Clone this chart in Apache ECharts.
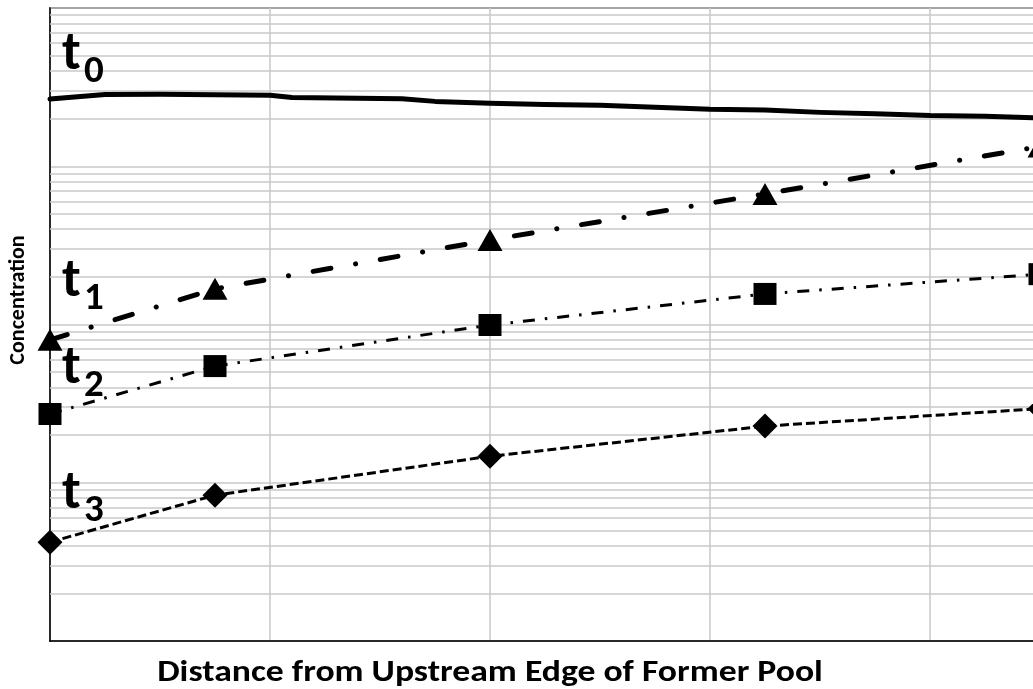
<!DOCTYPE html>
<html>
<head>
<meta charset="utf-8">
<script src="https://cdn.jsdelivr.net/npm/echarts@6/dist/echarts.min.js"></script>
<style>
  html, body { margin: 0; padding: 0; background: #fff; }
  #chart { width: 1033px; height: 689px; }
</style>
</head>
<body>
<div id="chart"></div>
<script>
const FONT = "Carlito, Lato, 'Open Sans', sans-serif";

// Sampling stations along the reach (distance units)
const stationX = [0, 0.75, 2, 3.25, 4.5];
const t1Values = [80, 168, 342, 669, 1334];
const t2Values = [27.2, 54.6, 99.3, 156, 208];
const t3Values = [4.21, 8.35, 14.7, 22.8, 29.4];

// Initial profile, sampled more densely
const t0X = [0, 0.25, 0.5, 1.0, 1.1, 1.6, 1.75, 2.0, 2.25, 2.5, 2.75, 3.0, 3.25, 3.5, 3.75, 4.0, 4.25, 4.5, 4.75];
const t0Values = [2660, 2840, 2850, 2810, 2720, 2670, 2570, 2500, 2460, 2430, 2360, 2290, 2270, 2190, 2150, 2090, 2070, 2020, 1990];

// Log gridline layout
const decades = [1, 10, 100, 1000];
const minorSteps = [2, 3, 4, 5, 6, 7, 8, 9];

// Curve labels: text, subscript, left x, baseline y
const curveLabels = [
  { t: 't', sub: '0', x: 62, base: 73 },
  { t: 't', sub: '1', x: 62, base: 300 },
  { t: 't', sub: '2', x: 62, base: 387 },
  { t: 't', sub: '3', x: 62, base: 512 }
];

const GRID_COLOR = '#c8c8c8';

const pairs = (xs, ys) => xs.map((x, i) => [x, ys[i]]);

const minorLines = [];
decades.forEach(d => minorSteps.forEach(s => minorLines.push({ yAxis: d * s })));

const T_SIZE = 54, SUB_SIZE = 39;
const labelGraphics = [];
curveLabels.forEach(l => {
  labelGraphics.push({
    type: 'text', x: l.x, y: l.base - 0.33 * T_SIZE, z: 100,
    style: { text: l.t, font: `bold ${T_SIZE}px ${FONT}`, fill: '#000', verticalAlign: 'middle', align: 'left' }
  });
  labelGraphics.push({
    type: 'text', x: l.x + 22, y: l.base + 12 - 0.33 * SUB_SIZE, z: 100,
    style: { text: l.sub, font: `bold ${SUB_SIZE}px ${FONT}`, fill: '#000', verticalAlign: 'middle', align: 'left' }
  });
});

const chart = echarts.init(document.getElementById('chart'), null, { renderer: 'canvas' });

chart.setOption({
  animation: false,
  backgroundColor: '#fff',
  grid: {
    left: 50, top: 8, bottom: 48, right: -117,
    outerBoundsMode: 'none',
    show: true, borderColor: '#000', borderWidth: 1.5, backgroundColor: 'transparent'
  },
  xAxis: {
    type: 'value', min: 0, max: 5, interval: 1,
    axisLine: { show: true, onZero: false, lineStyle: { color: '#000', width: 1.5 } },
    axisTick: { show: false },
    axisLabel: { show: false },
    splitLine: { show: true, lineStyle: { color: GRID_COLOR, width: 1.5 } }
  },
  yAxis: {
    type: 'log', logBase: 10, min: 1, max: 10000,
    axisLine: { show: true, lineStyle: { color: '#000', width: 1.5 } },
    axisTick: { show: false },
    axisLabel: { show: false },
    splitLine: { show: true, lineStyle: { color: GRID_COLOR, width: 1.5 } }
  },
  graphic: [
    {
      type: 'text', x: 18, y: 300, rotation: Math.PI / 2, z: 100,
      style: { text: 'Concentration', font: `bold 22px ${FONT}`, fill: '#000', align: 'center', verticalAlign: 'middle' }
    },
    {
      type: 'text', x: 490, y: 673, scaleX: 1.15, z: 100,
      style: { text: 'Distance from Upstream Edge of Former Pool', font: `bold 31px ${FONT}`, fill: '#000', align: 'center', verticalAlign: 'middle' }
    }
  ].concat(labelGraphics),
  series: [
    {
      name: 'minor grid', type: 'line', data: [], silent: true, z: 1,
      markLine: {
        silent: true, z: 1, symbol: ['none', 'none'], label: { show: false },
        lineStyle: { color: GRID_COLOR, width: 1.5, type: 'solid' },
        emphasis: { disabled: true },
        data: minorLines
      }
    },
    {
      name: 't0', type: 'line', data: pairs(t0X, t0Values), showSymbol: false, z: 3,
      clip: false,
      lineStyle: { color: '#000', width: 5, cap: 'round', join: 'round' }
    },
    {
      name: 't1', type: 'line', data: pairs(stationX, t1Values), z: 3, clip: false,
      symbol: 'triangle', symbolSize: [25, 22],
      itemStyle: { color: '#000' },
      lineStyle: { color: '#000', width: 5, type: [18, 25, 0.1, 25], cap: 'round' }
    },
    {
      name: 't2', type: 'line', data: pairs(stationX, t2Values), z: 3, clip: false,
      symbol: 'rect', symbolSize: [23, 22],
      itemStyle: { color: '#000' },
      lineStyle: { color: '#000', width: 3, type: [12, 10, 2.5, 10], cap: 'butt' }
    },
    {
      name: 't3', type: 'line', data: pairs(stationX, t3Values), z: 3, clip: false,
      symbol: 'diamond', symbolSize: [25, 25],
      itemStyle: { color: '#000' },
      lineStyle: { color: '#000', width: 3, type: [9, 4], cap: 'butt' }
    }
  ]
});
</script>
</body>
</html>
